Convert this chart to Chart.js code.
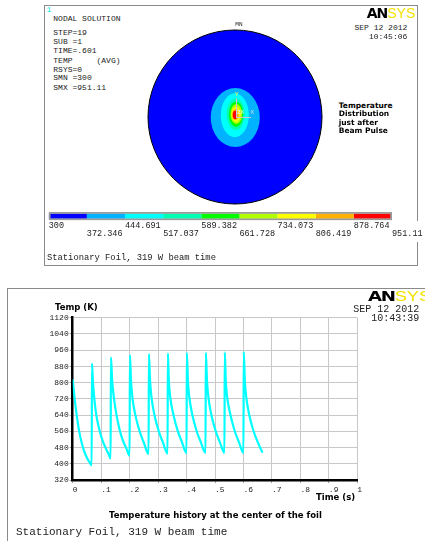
<!DOCTYPE html>
<html>
<head>
<meta charset="utf-8">
<script src="https://cdn.jsdelivr.net/npm/chart.js@4.4.0/dist/chart.umd.min.js"></script>
<style>
body { margin: 0; width: 425px; height: 541px; background: #fff; position: relative; overflow: hidden; }
canvas { position: absolute; }
.lbl { position: absolute; white-space: pre; line-height: 1; }
.frame { position: absolute; box-sizing: border-box; }
</style>
</head>
<body>

<div class="frame" style="left:44px;top:5px;width:374px;height:261px;border:1px solid #8a8a8a;"></div>
<div class="frame" style="left:416px;top:221px;width:4px;height:21px;background:#fff;"></div>
<div class="frame" style="left:7px;top:288px;width:430px;height:260px;border-top:1px solid #8a8a8a;border-left:1px solid #8a8a8a;"></div>

<canvas id="disc" width="184" height="184" style="left:143px;top:25px"></canvas>
<canvas id="bar" width="425" height="50" style="left:0;top:200px"></canvas>
<canvas id="hist" width="425" height="261" style="left:0;top:280px"></canvas>

<div id="texts"></div>

<script>
// ---- temperature history at the foil center (time in s, temperature in K)
const timeS = [
  0, 0.004, 0.008, 0.014, 0.022, 0.030, 0.040, 0.050, 0.060, 0.0667,
  0.0677, 0.071, 0.076, 0.083, 0.095, 0.105, 0.115, 0.125, 0.1333,
  0.1343, 0.139, 0.145, 0.154, 0.166, 0.177, 0.188, 0.2,
  0.201, 0.205, 0.21, 0.22, 0.235, 0.25, 0.2667,
  0.2677, 0.272, 0.277, 0.287, 0.302, 0.317, 0.3333,
  0.3343, 0.338, 0.343, 0.354, 0.369, 0.384, 0.4,
  0.401, 0.405, 0.41, 0.42, 0.435, 0.45, 0.4667,
  0.4677, 0.472, 0.477, 0.487, 0.502, 0.517, 0.5333,
  0.5343, 0.538, 0.543, 0.554, 0.569, 0.584, 0.6,
  0.601, 0.605, 0.61, 0.62, 0.635, 0.65, 0.667
];
const tempK = [
  816, 758, 708, 640, 566, 512, 464, 430, 405, 392,
  895, 808, 720, 640, 560, 514, 480, 451, 426,
  925, 805, 722, 640, 562, 512, 477, 440,
  936, 806, 724, 641, 561, 504, 447,
  941, 806, 725, 642, 562, 505, 450,
  944, 806, 725, 642, 562, 506, 452,
  947, 806, 726, 643, 563, 507, 453,
  948, 806, 726, 643, 563, 507, 454,
  949, 806, 726, 643, 563, 507, 454,
  951, 806, 726, 643, 563, 507, 455
];
const yTickValues = [320, 400, 480, 560, 640, 720, 800, 880, 960, 1040, 1120];
const yTickLabels = ['320', '400', '480', '560', '640', '720', '800', '880', '960', '1040', '1120'];
const xTickValues = [0, 0.1, 0.2, 0.3, 0.4, 0.5, 0.6, 0.7, 0.8, 0.9, 1];
const xTickLabels = ['0', '.1', '.2', '.3', '.4', '.5', '.6', '.7', '.8', '.9', '1'];

// ---- contour legend (K)
const levels = [300, 372.346, 444.691, 517.037, 589.382, 661.728, 734.073, 806.419, 878.764, 951.11];
const levelLabels = ['300', '372.346', '444.691', '517.037', '589.382', '661.728', '734.073', '806.419', '878.764', '951.11'];

// ---- contour bands on the foil (foil radius = 1), band 0 is the whole foil
const bandCx = [0, 0.003, -0.002, 0.008, 0.012, 0.015, 0.011, 0.005, 0.000];
const bandCy = [0, -0.006, 0.020, 0.032, 0.032, 0.034, 0.032, 0.029, 0.023];
const bandRx = [1, 0.282, 0.161, 0.105, 0.082, 0.067, 0.052, 0.039, 0.025];
const bandRy = [1, 0.339, 0.253, 0.182, 0.144, 0.115, 0.086, 0.063, 0.049];

const bandColors = ['#0000ff', '#00b2ff', '#00ffff', '#00ffb2', '#00ff00', '#b2ff00', '#ffff00', '#ffb200', '#ff0000'];

const MONO = "'Liberation Mono', 'DejaVu Sans Mono', monospace";
const SANS = "'DejaVu Sans', Verdana, sans-serif";

// ---- foil contour plot
const contourPlugin = {
  id: 'contours',
  beforeDatasetsDraw(chart) {
    const ctx = chart.ctx, xs = chart.scales.x, ys = chart.scales.y;
    ctx.save();
    for (let i = 0; i < bandRx.length; i++) {
      const cx = xs.getPixelForValue(bandCx[i]);
      const cy = ys.getPixelForValue(bandCy[i]);
      const rx = xs.getPixelForValue(bandCx[i] + bandRx[i]) - cx;
      const ry = cy - ys.getPixelForValue(bandCy[i] + bandRy[i]);
      ctx.beginPath();
      ctx.ellipse(cx, cy, rx, ry, 0, 0, Math.PI * 2);
      ctx.fillStyle = bandColors[i];
      ctx.fill();
      if (i === 0) { ctx.strokeStyle = '#000'; ctx.lineWidth = 1; ctx.stroke(); }
    }
    ctx.restore();
  }
};

new Chart(document.getElementById('disc'), {
  type: 'scatter',
  data: { datasets: [{ data: [] }] },
  options: {
    responsive: false, animation: false, events: [],
    layout: { padding: 5 },
    plugins: { legend: { display: false }, tooltip: { enabled: false } },
    scales: {
      x: { type: 'linear', min: -1, max: 1, display: false },
      y: { type: 'linear', min: -1, max: 1, display: false }
    }
  },
  plugins: [contourPlugin]
});

// ---- colour legend bar
const barSets = [{
  data: [[levels[0], levels[levels.length - 1]]],
  backgroundColor: 'rgba(0,0,0,0)', borderColor: '#9a9a9a', borderWidth: 1.5, borderSkipped: false,
  barPercentage: 1, categoryPercentage: 1, grouped: false, order: 0
}];
for (let i = 0; i < levels.length - 1; i++) {
  barSets.push({
    data: [[levels[i], levels[i + 1]]],
    backgroundColor: bandColors[i], borderWidth: 0,
    barPercentage: 0.64, categoryPercentage: 1, grouped: false, order: 1
  });
}

new Chart(document.getElementById('bar'), {
  type: 'bar',
  data: { labels: [''], datasets: barSets },
  options: {
    indexAxis: 'y', responsive: false, animation: false, events: [],
    layout: { padding: { left: 48.7, right: 33, top: 12, bottom: 9.7 } },
    plugins: { legend: { display: false }, tooltip: { enabled: false } },
    scales: {
      y: { display: false },
      x: {
        type: 'linear', min: levels[0], max: levels[levels.length - 1],
        afterBuildTicks: s => { s.ticks = levels.map(v => ({ value: v })); },
        grid: { display: false }, border: { display: false },
        ticks: {
          align: 'start', padding: -6, color: '#222', maxRotation: 0, autoSkip: false,
          font: { family: MONO, size: 8.5, lineHeight: 0.9 },
          callback: (v, i) => i % 2 === 0 ? [levelLabels[i], ''] : ['', levelLabels[i]]
        },
        afterFit: s => { s.height = 20; s.paddingLeft = 0; s.paddingRight = 0; }
      }
    }
  }
});

// ---- temperature history
new Chart(document.getElementById('hist'), {
  type: 'line',
  data: {
    datasets: [{
      data: timeS.map((t, i) => ({ x: t, y: tempK[i] })),
      borderColor: '#00ffff', borderWidth: 2.2, pointRadius: 0,
      cubicInterpolationMode: 'monotone', fill: false
    }]
  },
  options: {
    responsive: false, animation: false, events: [],
    layout: { padding: { left: 0, top: 37.7, right: 67.7, bottom: 41 } },
    plugins: { legend: { display: false }, tooltip: { enabled: false } },
    scales: {
      x: {
        type: 'linear', min: 0, max: 1,
        afterBuildTicks: s => { s.ticks = xTickValues.map(v => ({ value: v })); },
        grid: { color: '#c8c8c8', lineWidth: 1, tickLength: 3, tickColor: '#999' },
        border: { color: '#000', width: 2.5 },
        ticks: {
          align: 'start', padding: 2, color: '#222', maxRotation: 0, autoSkip: false,
          font: { family: MONO, size: 8 },
          callback: (v, i) => xTickLabels[i]
        },
        afterFit: s => { s.height = 20; s.paddingLeft = 0; s.paddingRight = 0; }
      },
      y: {
        type: 'linear', min: 320, max: 1120,
        afterBuildTicks: s => { s.ticks = yTickValues.map(v => ({ value: v })); },
        grid: { color: '#c8c8c8', lineWidth: 1, tickLength: 3, tickColor: '#999' },
        border: { color: '#000', width: 2.5 },
        ticks: {
          padding: 1, color: '#222', autoSkip: false,
          font: { family: MONO, size: 8 },
          callback: (v, i) => yTickLabels[i]
        },
        afterFit: s => { s.width = 72.7; s.paddingTop = 0; s.paddingBottom = 0; }
      }
    }
  }
});

// ---- annotation text (ANSYS style)
function put(text, x, cy, size, o) {
  o = o || {};
  const d = document.createElement('div');
  d.className = 'lbl';
  d.textContent = text;
  const fam = o.family || MONO;
  d.style.fontFamily = fam;
  d.style.fontSize = size + 'px';
  d.style.fontWeight = o.bold ? 'bold' : 'normal';
  d.style.color = o.color || '#222';
  d.style.top = (cy - (fam === MONO ? 0.45 : 0.5) * size) + 'px';
  if (o.align === 'right') d.style.right = (425 - x) + 'px';
  else if (o.align === 'center') { d.style.left = x + 'px'; d.style.transform = 'translateX(-50%)'; }
  else d.style.left = x + 'px';
  document.getElementById('texts').appendChild(d);
  return d;
}

put('1', 46.5, 10, 8, { color: '#00e0e0' });
put('NODAL SOLUTION', 53.3, 19, 8);
put('STEP=19', 53.3, 32.3, 8);
put('SUB =1', 53.3, 42, 8);
put('TIME=.601', 53.3, 51, 8);
put('TEMP     (AVG)', 53.3, 60.3, 8);
put('RSYS=0', 53.3, 69.3, 8);
put('SMN =300', 53.3, 78, 8);
put('SMX =951.11', 53.3, 87.3, 8);
put('SEP 12 2012', 407.3, 27.3, 8, { align: 'right' });
put('10:45:06', 407.3, 36.7, 8, { align: 'right' });
put('MN', 235.3, 25, 6);
put('Temperature', 338.7, 105.3, 7.5, { family: SANS, bold: true, color: '#000' });
put('Distribution', 338.7, 114, 7.5, { family: SANS, bold: true, color: '#000' });
put('just after', 338.7, 122.3, 7.5, { family: SANS, bold: true, color: '#000' });
put('Beam Pulse', 338.7, 131, 7.5, { family: SANS, bold: true, color: '#000' });
put('Y', 235, 95, 6, { color: '#ffff40' });
put('ZX', 237, 112.7, 6, { color: '#e0f0ff' });
put('X', 250.5, 112.3, 6, { color: '#e0e0e0' });
put('Stationary Foil, 319 W beam time', 47, 257.7, 8.8);

put('SEP 12 2012', 419.3, 309.3, 10, { align: 'right' });
put('10:43:39', 419.3, 318.3, 10, { align: 'right' });
put('Temp (K)', 55, 307.7, 8.5, { family: SANS, bold: true, color: '#000' });
put('Time (s)', 316, 497.3, 8.5, { family: SANS, bold: true, color: '#000' });
put('Temperature history at the center of the foil', 215.5, 515.3, 8.5, { family: SANS, bold: true, color: '#000', align: 'center' });
put('Stationary Foil, 319 W beam time', 16, 531.7, 11);

// triad lines
[[236, 117, 15, 1], [236, 98, 1, 19]].forEach(r => {
  const d = document.createElement('div');
  d.className = 'frame';
  d.style.cssText += `left:${r[0]}px;top:${r[1]}px;width:${r[2]}px;height:${r[3]}px;background:#c8c8d8;`;
  document.getElementById('texts').appendChild(d);
});

// logos
function logo(x, top, scale) {
  const d = document.createElement('div');
  d.className = 'lbl';
  d.style.left = x + 'px';
  d.style.top = top + 'px';
  d.style.fontSize = '14px';
  d.style.transformOrigin = 'left top';
  d.style.transform = `scaleX(${scale})`;
  d.innerHTML = `<span style="font-family:${SANS};font-weight:900;color:#000;letter-spacing:-1px">AN</span><span style="font-family:'Liberation Sans',sans-serif;color:#f2e200">SYS</span>`;
  document.getElementById('texts').appendChild(d);
}
logo(366.7, 5.7, 1);
logo(368.3, 288.6, 1.3);
</script>
</body>
</html>
